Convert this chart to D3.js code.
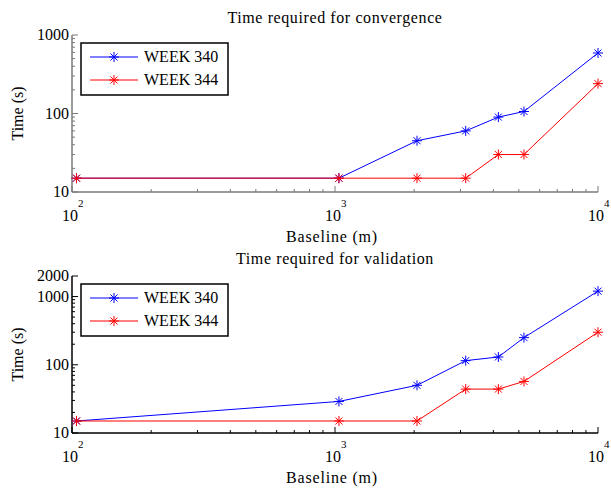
<!DOCTYPE html>
<html><head><meta charset="utf-8">
<script src="https://cdn.jsdelivr.net/npm/d3@7/dist/d3.min.js"></script>
<style>body{margin:0;background:#fff}svg{display:block}text{font-family:"Liberation Serif","DejaVu Serif",serif;fill:#000}</style>
</head><body><svg id="c" width="611" height="488"></svg>
<script>
const baseline = [104, 1035, 2050, 3140, 4180, 5230, 10000];
const convWeek340 = [15, 15, 45, 60, 90, 106, 590];
const convWeek344 = [15, 15, 15, 15, 30, 30, 240];
const valWeek340 = [15, 29, 50, 115, 130, 250, 1200];
const valWeek344 = [15, 15, 15, 44, 44, 57, 300];
const seriesNames = ["WEEK 340", "WEEK 344"];
const seriesColors = ["#0000ff", "#ff0000"];
const xTicks = [100, 1000, 10000];
const convYTicks = [10, 100, 1000];
const valYTicks = [10, 100, 1000, 2000];

const svg = d3.select("#c");
const L = 72, R = 598;

function panel(cfg){
  const g = svg.append("g");
  const x = d3.scaleLog().domain([100, 10000]).range([L, R]);
  const y = d3.scaleLog().domain(cfg.yDomain).range([cfg.bottom, cfg.top]);
  const ac = cfg.axisColor;
  const minorX = [];
  for (let d = 100; d < 10000; d *= 10) for (let k = 2; k <= 9; k++) minorX.push(d*k);
  g.selectAll(".mx").data(minorX).join("line")
    .attr("x1", d=>x(d)).attr("x2", d=>x(d)).attr("y1", cfg.bottom).attr("y2", cfg.bottom-3)
    .attr("stroke", ac).attr("stroke-width", 1);
  g.selectAll(".Mx").data(xTicks).join("line")
    .attr("x1", d=>x(d)).attr("x2", d=>x(d)).attr("y1", cfg.bottom).attr("y2", cfg.bottom-6)
    .attr("stroke", ac).attr("stroke-width", 1);
  const minorY = [];
  for (let d = 10; d < cfg.yDomain[1]; d *= 10) for (let k = 2; k <= 9; k++) if (d*k < cfg.yDomain[1]) minorY.push(d*k);
  g.selectAll(".my").data(minorY).join("line")
    .attr("x1", L).attr("x2", L+3).attr("y1", d=>y(d)).attr("y2", d=>y(d))
    .attr("stroke", ac).attr("stroke-width", 1);
  g.selectAll(".My").data(cfg.yTicks).join("line")
    .attr("x1", L).attr("x2", L+6).attr("y1", d=>y(d)).attr("y2", d=>y(d))
    .attr("stroke", ac).attr("stroke-width", 1);
  g.append("line").attr("x1", L).attr("x2", L).attr("y1", cfg.top).attr("y2", cfg.bottom).attr("stroke", ac).attr("stroke-width", 1.5);
  g.append("line").attr("x1", L).attr("x2", R).attr("y1", cfg.bottom).attr("y2", cfg.bottom).attr("stroke", ac).attr("stroke-width", 1.5);
  g.selectAll(".yl").data(cfg.yTicks).join("text")
    .attr("x", L-3).attr("y", d=>y(d)+5).attr("text-anchor", "end").attr("font-size", 16).text(d=>d);
  xTicks.forEach(d=>{
    const e = Math.round(Math.log10(d));
    g.append("text").attr("x", x(d)-2).attr("y", cfg.bottom+29).attr("text-anchor", "middle").attr("font-size", 16).text("10");
    g.append("text").attr("x", x(d)+6).attr("y", cfg.bottom+15).attr("font-size", 11).text(e);
  });
  g.append("text").attr("x", 332).attr("y", cfg.bottom+50).attr("text-anchor", "middle").attr("font-size", 16).attr("letter-spacing", 0.8).text("Baseline (m)");
  g.append("text").attr("x", 335).attr("y", cfg.titleY).attr("text-anchor", "middle").attr("font-size", 16).attr("letter-spacing", 0.6).text(cfg.title);
  g.append("text").attr("transform", `translate(23,${(cfg.top+cfg.bottom)/2}) rotate(-90)`).attr("text-anchor", "middle").attr("font-size", 16).text("Time (s)");
  const line = d3.line().x((d,i)=>x(baseline[i])).y(d=>y(d));
  const star = (sel, c) => {
    const s = 5;
    sel.each(function(){
      const n = d3.select(this);
      [[-s,0,s,0],[0,-s,0,s],[-s*0.7,-s*0.7,s*0.7,s*0.7],[-s*0.7,s*0.7,s*0.7,-s*0.7]].forEach(p=>{
        n.append("line").attr("x1",p[0]).attr("y1",p[1]).attr("x2",p[2]).attr("y2",p[3]).attr("stroke",c).attr("stroke-width",1);
      });
    });
  };
  cfg.series.forEach((vals, si)=>{
    g.append("path").datum(vals).attr("d", line).attr("fill","none").attr("stroke", seriesColors[si]).attr("stroke-width", 1);
    const m = g.selectAll(null).data(vals).join("g").attr("transform", (d,i)=>`translate(${x(baseline[i])},${y(d)})`);
    star(m, seriesColors[si]);
  });
  const lg = g.append("g");
  lg.append("rect").attr("x", 81).attr("y", cfg.legTop).attr("width", 147).attr("height", 52).attr("fill","#fff").attr("stroke","#000").attr("stroke-width",1.5);
  seriesNames.forEach((nm, si)=>{
    const yy = cfg.legTop + 14 + si*23;
    lg.append("line").attr("x1",90).attr("x2",138).attr("y1",yy).attr("y2",yy).attr("stroke",seriesColors[si]).attr("stroke-width",1);
    const m = lg.append("g").attr("transform",`translate(114,${yy})`);
    star(m, seriesColors[si]);
    lg.append("text").attr("x",144).attr("y",yy+5).attr("font-size",16).text(nm);
  });
}

panel({top:35, bottom:192, yDomain:[10,1000], yTicks:convYTicks, series:[convWeek340, convWeek344],
  title:"Time required for convergence", titleY:23, legTop:43, axisColor:"#7a7a7a"});
panel({top:276, bottom:433, yDomain:[10,2000], yTicks:valYTicks, series:[valWeek340, valWeek344],
  title:"Time required for validation", titleY:264, legTop:284, axisColor:"#000"});
</script></body></html>
